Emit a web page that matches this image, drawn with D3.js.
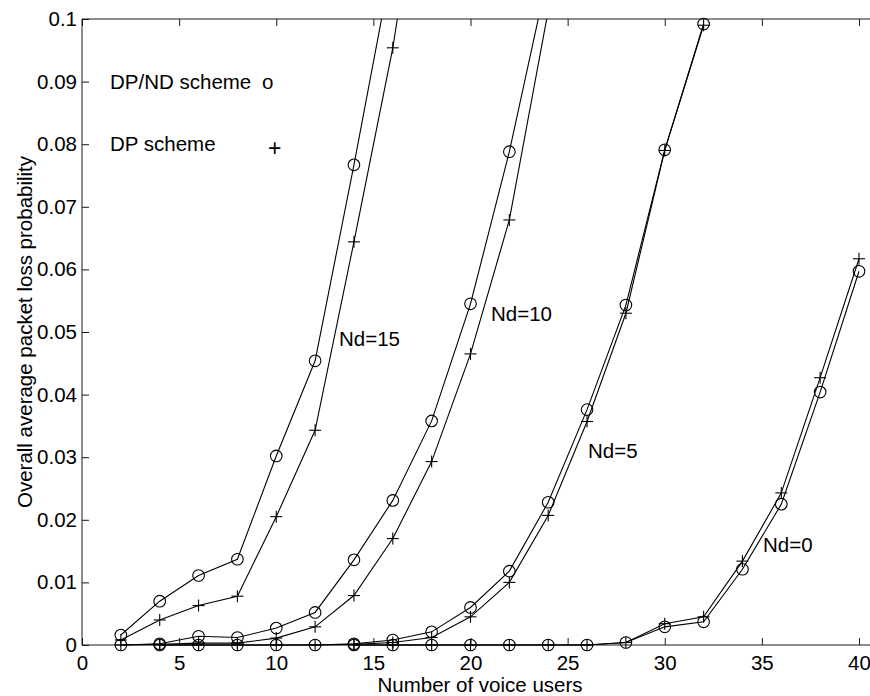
<!DOCTYPE html>
<html>
<head>
<meta charset="utf-8">
<script src="https://cdn.jsdelivr.net/npm/d3@7"></script>
<style>
  html, body { margin: 0; padding: 0; background: #fff; }
  svg { display: block; }
  text { font-family: "Liberation Sans", Arial, Helvetica, sans-serif; fill: #000; }
</style>
</head>
<body>
<svg id="chart" width="870" height="696"></svg>
<script>
// ---- data ----
const xTicks = [0, 5, 10, 15, 20, 25, 30, 35, 40];
const xTickLabels = ["0", "5", "10", "15", "20", "25", "30", "35", "40"];
const yTicks = [0, 0.01, 0.02, 0.03, 0.04, 0.05, 0.06, 0.07, 0.08, 0.09, 0.1];
const yTickLabels = ["0", "0.01", "0.02", "0.03", "0.04", "0.05", "0.06", "0.07", "0.08", "0.09", "0.1"];

const xLabel = "Number of voice users";
const yLabel = "Overall average packet loss probability";
const legendLabels = ["DP/ND scheme", "DP scheme"];
const legendSymbols = ["o", "+"];

// Nd = 15
const usersNd15DPND = [2, 4, 6, 8, 10, 12, 14, 16];
const lossNd15DPND  = [0.0016, 0.0070, 0.0111, 0.0137, 0.0302, 0.0454, 0.0767, 0.1095];
const usersNd15DP   = [2, 4, 6, 8, 10, 12, 14, 16, 18];
const lossNd15DP    = [0.0008, 0.0040, 0.0063, 0.0078, 0.0205, 0.0343, 0.0644, 0.0954, 0.135];

// Nd = 10
const usersNd10 = [2, 4, 6, 8, 10, 12, 14, 16, 18, 20, 22, 24];
const lossNd10DPND = [0, 0.0002, 0.0014, 0.0012, 0.0027, 0.0052, 0.0136, 0.0231, 0.0358, 0.0545, 0.0788, 0.1073];
const lossNd10DP   = [0, 0.0001, 0.0003, 0.0003, 0.0011, 0.0029, 0.0079, 0.0170, 0.0293, 0.0465, 0.0679, 0.1013];

// Nd = 5
const usersNd5 = [4, 6, 8, 10, 12, 14, 16, 18, 20, 22, 24, 26, 28, 30, 32];
const lossNd5DPND = [0, 0, 0, 0, 0, 0.0002, 0.0008, 0.0021, 0.0060, 0.0118, 0.0228, 0.0376, 0.0543, 0.0791, 0.0992];
const lossNd5DP   = [0, 0, 0, 0, 0, 0.0001, 0.0004, 0.0012, 0.0045, 0.0100, 0.0207, 0.0357, 0.0530, 0.0790, 0.0990];

// Nd = 0
const usersNd0 = [14, 16, 18, 20, 22, 24, 26, 28, 30, 32, 34, 36, 38, 40];
const lossNd0DPND = [0, 0, 0, 0, 0, 0, 0, 0.0004, 0.0029, 0.0037, 0.0121, 0.0225, 0.0404, 0.0597];
const lossNd0DP   = [0, 0, 0, 0, 0, 0, 0, 0.0004, 0.0034, 0.0045, 0.0134, 0.0243, 0.0427, 0.0617];

const curveLabels = ["Nd=15", "Nd=10", "Nd=5", "Nd=0"];

// ---- build ----
(function () {
const series = [
  { xs: usersNd15DPND, ys: lossNd15DPND, marker: "circle" },
  { xs: usersNd15DP,   ys: lossNd15DP,   marker: "plus" },
  { xs: usersNd10,     ys: lossNd10DPND, marker: "circle" },
  { xs: usersNd10,     ys: lossNd10DP,   marker: "plus" },
  { xs: usersNd5,      ys: lossNd5DPND,  marker: "circle" },
  { xs: usersNd5,      ys: lossNd5DP,    marker: "plus" },
  { xs: usersNd0,      ys: lossNd0DPND,  marker: "circle" },
  { xs: usersNd0,      ys: lossNd0DP,    marker: "plus" }
];

const svg = d3.select("#chart");
const pLeft = 82, pRight = 859, pTop = 19, pBottom = 645, pEdge = 870;
const fontSize = 20.5;

const x = d3.scaleLinear().domain([0, 40]).range([pLeft, pRight]);
const y = d3.scaleLinear().domain([0, 0.1]).range([pBottom, pTop]);

svg.append("defs").append("clipPath").attr("id", "plotclip")
  .append("rect").attr("x", pLeft).attr("y", pTop).attr("width", pEdge - pLeft).attr("height", pBottom - pTop + 10);

// axes
const axisColor = "#1a1a1a";
const gx = svg.append("g").attr("transform", `translate(0,${pBottom})`)
  .call(d3.axisBottom(x).tickValues(xTicks).tickFormat((d, i) => xTickLabels[i])
    .tickSizeInner(-7).tickSizeOuter(0).tickPadding(10));
const gxTop = svg.append("g").attr("transform", `translate(0,${pTop})`)
  .call(d3.axisTop(x).tickValues(xTicks).tickFormat("")
    .tickSizeInner(-7).tickSizeOuter(0));
const gy = svg.append("g").attr("transform", `translate(${pLeft},0)`)
  .call(d3.axisLeft(y).tickValues(yTicks).tickFormat((d, i) => yTickLabels[i])
    .tickSizeInner(-7).tickSizeOuter(0).tickPadding(5));
[gx, gxTop, gy].forEach(g => {
  g.select(".domain").remove();
  g.selectAll(".tick line").attr("stroke", axisColor);
  g.selectAll(".tick text").attr("font-size", fontSize)
    .attr("font-family", "'Liberation Sans', Arial, sans-serif").attr("fill", "#000");
});

// frame lines
svg.append("line").attr("x1", pLeft).attr("x2", pEdge).attr("y1", pTop).attr("y2", pTop).attr("stroke", axisColor);
svg.append("line").attr("x1", pLeft).attr("x2", pEdge).attr("y1", pBottom).attr("y2", pBottom).attr("stroke", axisColor);
svg.append("line").attr("x1", pLeft).attr("x2", pLeft).attr("y1", pTop).attr("y2", pBottom).attr("stroke", axisColor);

// lines
const line = d3.line().x(d => x(d[0])).y(d => y(d[1]));
const plot = svg.append("g");
series.forEach(s => {
  const pts = s.xs.map((v, i) => [v, s.ys[i]]);
  plot.append("path").datum(pts).attr("d", line)
    .attr("fill", "none").attr("stroke", "#000").attr("stroke-width", 1.1)
    .attr("clip-path", "url(#plotclip)");
});
// markers
series.forEach(s => {
  const pts = s.xs.map((v, i) => [v, s.ys[i]]).filter(p => p[1] <= 0.1);
  if (s.marker === "circle") {
    plot.selectAll(null).data(pts).enter().append("circle")
      .attr("cx", d => x(d[0])).attr("cy", d => y(d[1])).attr("r", 5.8)
      .attr("fill", "none").attr("stroke", "#000").attr("stroke-width", 1.1);
  } else {
    const g = plot.selectAll(null).data(pts).enter().append("g")
      .attr("transform", d => `translate(${x(d[0])},${y(d[1])})`);
    g.append("line").attr("x1", -6).attr("x2", 6).attr("stroke", "#000").attr("stroke-width", 1.1);
    g.append("line").attr("y1", -6).attr("y2", 6).attr("stroke", "#000").attr("stroke-width", 1.1);
  }
});

// curve labels
const curveLabelPos = [[339, 346], [491, 321], [588, 458], [763, 552]];
curveLabels.forEach((t, i) => {
  svg.append("text").attr("x", curveLabelPos[i][0]).attr("y", curveLabelPos[i][1])
    .attr("font-size", fontSize).text(t);
});

// legend
svg.append("text").attr("x", 110).attr("y", 89).attr("font-size", fontSize).text(legendLabels[0]);
svg.append("text").attr("x", 262).attr("y", 89).attr("font-size", fontSize).text(legendSymbols[0]);
svg.append("text").attr("x", 110).attr("y", 151).attr("font-size", fontSize).text(legendLabels[1]);
svg.append("text").attr("x", 268).attr("y", 156).attr("font-size", 23).text(legendSymbols[1]);

// axis titles
svg.append("text").attr("x", 480).attr("y", 692).attr("text-anchor", "middle")
  .attr("font-size", fontSize).text(xLabel);
svg.append("text").attr("transform", `translate(32,${(pTop + pBottom) / 2}) rotate(-90)`)
  .attr("text-anchor", "middle").attr("font-size", fontSize).text(yLabel);
})();
</script>
</body>
</html>
